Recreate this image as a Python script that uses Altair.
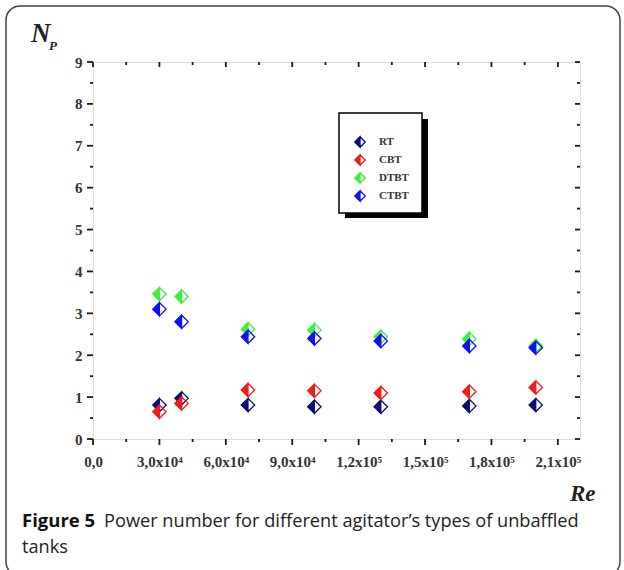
import altair as alt
import pandas as pd

# Reynolds numbers and power numbers for each agitator type
re_values = [30000, 40000, 70000, 100000, 130000, 170000, 200000]
series_names = ["RT", "CBT", "DTBT", "CTBT"]
np_rt = [0.81, 0.97, 0.81, 0.77, 0.77, 0.79, 0.81]
np_cbt = [0.65, 0.85, 1.17, 1.15, 1.10, 1.13, 1.23]
np_dtbt = [3.46, 3.40, 2.62, 2.60, 2.44, 2.39, 2.22]
np_ctbt = [3.10, 2.80, 2.44, 2.40, 2.34, 2.22, 2.18]
series_colors = ["#0b0b78", "#f01c1c", "#3cf03c", "#1010f0"]

x_major = [0, 30000, 60000, 90000, 120000, 150000, 180000, 210000]
x_labels = ["0,0", "3,0x10⁴", "6,0x10⁴", "9,0x10⁴", "1,2x10⁵", "1,5x10⁵", "1,8x10⁵", "2,1x10⁵"]
x_minor = [15000, 45000, 75000, 105000, 135000, 165000, 195000]
y_major = [0, 1, 2, 3, 4, 5, 6, 7, 8, 9]
y_minor = [0.5, 1.5, 2.5, 3.5, 4.5, 5.5, 6.5, 7.5, 8.5]

caption_bold = "Figure 5"
caption_line1 = "Power number for different agitator’s types of unbaffled"
caption_line2 = "tanks"

W, H = 487, 377
SERIF = "Liberation Serif"
INK = "#1a1a1a"

rows = []
for name, vals in zip(series_names, [np_rt, np_cbt, np_dtbt, np_ctbt]):
    for r, v in zip(re_values, vals):
        rows.append({"Re": r, "Np": v, "series": name})
points = pd.DataFrame(rows)

x_scale = alt.Scale(domain=[0, 220000], nice=False, zero=False)
y_scale = alt.Scale(domain=[0, 9], nice=False, zero=False)

label_expr = " : ".join(
    f"datum.value == {v} ? '{t}'" for v, t in zip(x_major, x_labels)
) + " : ''"

x_axis = alt.Axis(
    values=x_major, labelExpr=label_expr, title=None, grid=False, ticks=False,
    domain=False, labelFont=SERIF, labelFontWeight="bold", labelFontSize=15,
    labelColor="#333", labelPadding=15, labelFlush=False,
)
y_axis = alt.Axis(
    values=y_major, title=None, grid=False, ticks=False, domain=False,
    labelFont=SERIF, labelFontWeight="bold", labelFontSize=15,
    labelColor="#333", labelPadding=11,
)

# half-filled diamond: left triangle filled, right edges stroked only
HALF_DIAMOND = "M0,-1L-1,0L0,1ZM0,-1L1,0L0,1L1,0Z"

color_scale = alt.Scale(domain=series_names, range=series_colors)
legend = alt.Legend(
    title=None, orient="none", legendX=261, legendY=74,
    symbolType=HALF_DIAMOND, symbolSize=110, symbolStrokeWidth=1.3,
    labelFont=SERIF, labelFontWeight="bold", labelFontSize=11,
    labelColor="#333", labelOffset=13, rowPadding=2, padding=0,
)

pts = alt.Chart(points).mark_point(
    filled=True, shape=HALF_DIAMOND, size=180, strokeWidth=1.3, opacity=1
).encode(
    x=alt.X("Re:Q", scale=x_scale, axis=x_axis),
    y=alt.Y("Np:Q", scale=y_scale, axis=y_axis),
    fill=alt.Fill("series:N", scale=color_scale, legend=legend),
    stroke=alt.Stroke("series:N", scale=color_scale, legend=legend),
)

def xticks(vals, y0, y1):
    return alt.Chart(pd.DataFrame({"Re": vals})).mark_rule(
        color=INK, strokeWidth=1.8
    ).encode(
        x=alt.X("Re:Q", scale=x_scale, axis=x_axis),
        y=alt.value(y0), y2=alt.value(y1),
    )

def yticks(vals, x0, x1):
    return alt.Chart(pd.DataFrame({"Np": vals})).mark_rule(
        color=INK, strokeWidth=1.8
    ).encode(
        y=alt.Y("Np:Q", scale=y_scale, axis=y_axis),
        x=alt.value(x0), x2=alt.value(x1),
    )

ticks = [
    xticks(x_major, H, H + 6), xticks(x_minor, H, H + 3),
    xticks(x_major, 0, 5), xticks(x_minor, 0, 3),
    yticks(y_major, -6, 0), yticks(y_minor, -3, 0),
    yticks(y_major, W - 5, W), yticks(y_minor, W - 3, W),
]

one = pd.DataFrame({"k": [0]})

def box(x0, x1, y0, y1, **kw):
    return alt.Chart(one).mark_rect(**kw).encode(
        x=alt.value(x0), x2=alt.value(x1), y=alt.value(y0), y2=alt.value(y1)
    )

frame = box(-87, 527, -56, 514, fillOpacity=0, stroke="#444",
            strokeWidth=1.5, cornerRadius=14)
legend_shadow = box(252, 335, 57, 156, fill="black")
legend_box = box(246, 329, 51, 151, fill="white", stroke="black", strokeWidth=1.5)

def label(text, x, y, **kw):
    return alt.Chart(pd.DataFrame({"t": [text]})).mark_text(
        align="left", baseline="alphabetic", **kw
    ).encode(x=alt.value(x), y=alt.value(y), text="t:N")

n_label = label("N", -62, -20, font=SERIF, fontSize=27, fontWeight="bold",
                fontStyle="italic", color="#222")
p_label = label("P", -44, -12, font=SERIF, fontSize=13, fontWeight="bold",
                fontStyle="italic", color="#222")
re_label = label("Re", 477, 439, font=SERIF, fontSize=23, fontWeight="bold",
                 fontStyle="italic", color="#222")
cap_b = label(caption_bold, -71, 465, font="Open Sans", fontSize=18.5,
              fontWeight="bold", color="#111")
cap_1 = label(caption_line1, 11, 465, font="Open Sans", fontSize=18.2, color="#222")
cap_2 = label(caption_line2, -71, 491, font="Open Sans", fontSize=18.2, color="#222")

chart = alt.layer(
    frame, legend_shadow, legend_box, *ticks, pts,
    n_label, p_label, re_label, cap_b, cap_1, cap_2,
).properties(
    width=W, height=H,
    padding={"left": 93, "top": 62, "right": 44, "bottom": 131},
    autosize=alt.AutoSizeParams(type="none"),
).configure_view(
    stroke=INK, strokeWidth=1.8
).configure(background="white")

chart.save("out.html", embed_options={"renderer": "svg", "actions": False})
